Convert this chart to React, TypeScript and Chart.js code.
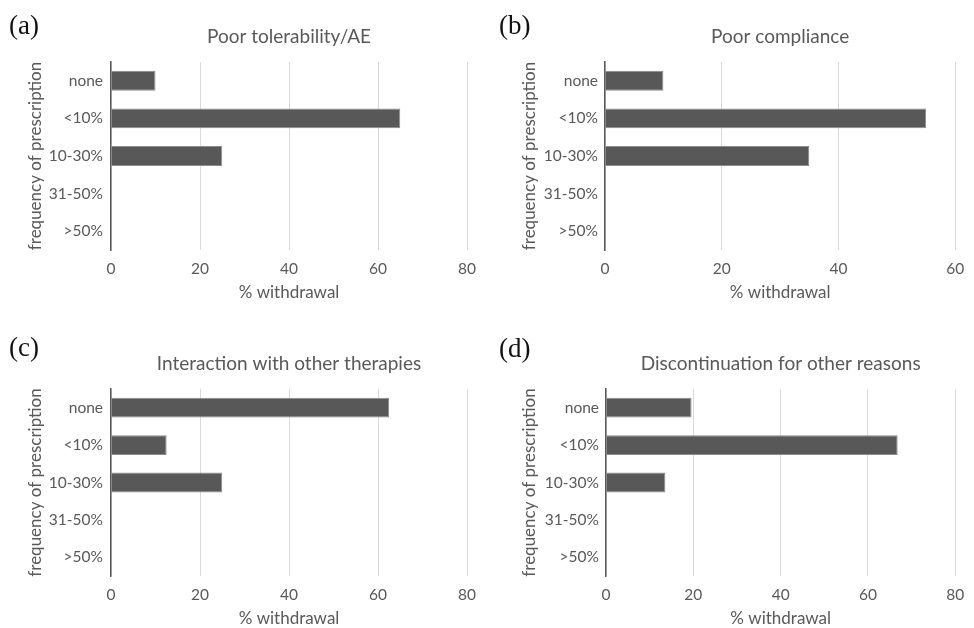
import React, { useEffect, useRef } from "react";
import { Chart, registerables } from "chart.js";

Chart.register(...registerables);

// ---- data ----
const categories = ["none", "<10%", "10-30%", "31-50%", ">50%"];
const tolerabilityValues = [10, 65, 25, 0, 0];
const complianceValues = [10, 55, 35, 0, 0];
const interactionValues = [62.5, 12.5, 25, 0, 0];
const otherReasonsValues = [19.6, 66.8, 13.6, 0, 0];
const panelTitles = [
  "Poor tolerability/AE",
  "Poor compliance",
  "Interaction with other therapies",
  "Discontinuation for other reasons",
];
const panelLetters = ["(a)", "(b)", "(c)", "(d)"];
const xMaxima = [80, 60, 80, 80];
const xStep = 20;
const xAxisTitle = "% withdrawal";
const yAxisTitle = "frequency of prescription";

const panelValues = [tolerabilityValues, complianceValues, interactionValues, otherReasonsValues];

// ---- layout (positions/sizes) ----
type Layout = {
  left: number; top: number; w: number; h: number;
  cl: number; cr: number; ct: number; cb: number;
  titleY: number; yTitleX: number; tickPad: number;
  letterX: number; letterY: number;
};
const layouts: Layout[] = [
  { left: 0, top: 0, w: 487, h: 314, cl: 111, cr: 467, ct: 62, cb: 250, titleY: 37, yTitleX: 36, tickPad: 8, letterX: 9, letterY: 25 },
  { left: 487, top: 0, w: 487, h: 314, cl: 118, cr: 477, ct: 62, cb: 250, titleY: 37, yTitleX: 43, tickPad: 7, letterX: 499, letterY: 25 },
  { left: 0, top: 314, w: 487, h: 314, cl: 111, cr: 467, ct: 75, cb: 262, titleY: 50, yTitleX: 36, tickPad: 8, letterX: 9, letterY: 347 },
  { left: 487, top: 314, w: 487, h: 314, cl: 119, cr: 474, ct: 75, cb: 262, titleY: 50, yTitleX: 43, tickPad: 7, letterX: 499, letterY: 348 },
];

const FONT = "Lato, 'Open Sans', sans-serif";
const TEXT = "#595959";
const TITLE_SIZE = 19;
const TICK_SIZE = 15.5;
const AXIS_TITLE_SIZE = 17;

function Panel({ idx }: { idx: number }) {
  const ref = useRef<HTMLCanvasElement | null>(null);
  const L = layouts[idx];
  useEffect(() => {
    if (!ref.current) return;
    const tLh = TITLE_SIZE * 1.2;
    const chart = new Chart(ref.current, {
      type: "bar",
      data: {
        labels: categories,
        datasets: [
          {
            data: panelValues[idx],
            backgroundColor: "#585858",
            borderColor: "#8c8c8c",
            borderWidth: 1,
            barPercentage: 0.53,
            categoryPercentage: 1,
          },
        ],
      },
      options: {
        indexAxis: "y",
        responsive: false,
        animation: false,
        devicePixelRatio: 1,
        layout: { padding: { left: 0, top: 0, bottom: 0, right: L.w - L.cr } },
        plugins: {
          legend: { display: false },
          tooltip: { enabled: false },
          title: {
            display: true,
            text: panelTitles[idx],
            fullSize: false,
            color: TEXT,
            font: { family: FONT, size: TITLE_SIZE, weight: "normal", lineHeight: 1.2 },
            padding: { top: L.titleY - tLh / 2, bottom: L.ct - L.titleY - tLh / 2 },
          },
        },
        scales: {
          x: {
            type: "linear",
            min: 0,
            max: xMaxima[idx],
            ticks: {
              stepSize: xStep,
              color: TEXT,
              font: { family: FONT, size: TICK_SIZE, lineHeight: 1.2 },
              padding: 19 - (TICK_SIZE * 1.2) / 2,
              maxRotation: 0,
            },
            grid: { display: true, color: "#d9d9d9", lineWidth: 1, drawTicks: false },
            border: { display: false },
            title: {
              display: true,
              text: xAxisTitle,
              color: TEXT,
              font: { family: FONT, size: AXIS_TITLE_SIZE, lineHeight: 1 },
              padding: { top: 0, bottom: L.h - L.cb - 43 - AXIS_TITLE_SIZE / 2 },
            },
            afterFit: (s: any) => {
              s.height = L.h - L.cb;
            },
          },
          y: {
            type: "category",
            ticks: {
              color: TEXT,
              font: { family: FONT, size: TICK_SIZE, lineHeight: 1.2 },
              padding: L.tickPad,
            },
            grid: { display: false, drawTicks: false },
            border: { display: true, color: "#595959", width: 1.5 },
            title: {
              display: true,
              text: yAxisTitle,
              color: TEXT,
              font: { family: FONT, size: AXIS_TITLE_SIZE, lineHeight: 1 },
              padding: { top: L.yTitleX - AXIS_TITLE_SIZE / 2, bottom: 0 },
            },
            afterFit: (s: any) => {
              s.width = L.cl;
            },
          },
        },
      },
    });
    return () => chart.destroy();
  }, [idx]);
  return (
    <canvas
      ref={ref}
      width={L.w}
      height={L.h}
      style={{ position: "absolute", left: L.left, top: L.top, width: L.w, height: L.h }}
    />
  );
}

export default function App() {
  return (
    <div
      style={{
        position: "fixed",
        left: 0,
        top: 0,
        width: 974,
        height: 628,
        background: "#ffffff",
        overflow: "hidden",
      }}
    >
      {layouts.map((L, i) => (
        <Panel key={i} idx={i} />
      ))}
      {layouts.map((L, i) => (
        <div
          key={"l" + i}
          style={{
            position: "absolute",
            left: L.letterX,
            top: L.letterY - 15,
            fontFamily: "'Liberation Serif', 'Times New Roman', serif",
            fontSize: 27,
            lineHeight: "30px",
            color: "#111",
          }}
        >
          {panelLetters[i]}
        </div>
      ))}
    </div>
  );
}
